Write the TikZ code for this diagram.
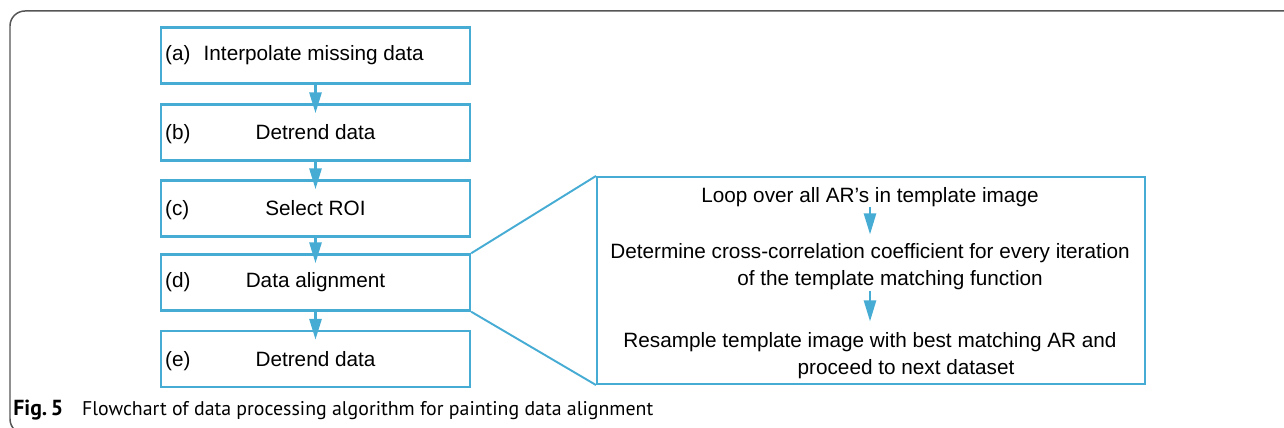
\documentclass[tikz,border=0pt]{standalone}
\usepackage{fontspec}
\setmainfont{Liberation Sans}
\newfontfamily\capfont{PT Sans}
\usetikzlibrary{arrows.meta}
\definecolor{flowblue}{RGB}{70,172,212}
\definecolor{framegray}{RGB}{85,85,85}

\begin{document}
\begin{tikzpicture}[x=0.02cm,y=-0.02cm,
        stepbox/.style={draw=flowblue,line width=1.4pt,minimum width=6.18cm,minimum height=1.12cm,inner sep=0pt,font=\fontsize{11.8}{14}\selectfont},
        tag/.style={anchor=base west,inner sep=0pt,font=\fontsize{11.8}{14}\selectfont},
        txt/.style={inner sep=0pt,align=center,font=\fontsize{11.8}{15.4}\selectfont},
        flow/.style={draw=flowblue,line width=1.7pt,-{Triangle[width=0.24cm,length=0.42cm,fill=flowblue]}}]
    \useasboundingbox (0,0) rectangle (1284,428);

    % outer frame
    \draw[framegray,line width=0.85pt,rounded corners=0.3cm] (10,11) rectangle (1320,434);

    % left column
    \node[stepbox] (a) at (315.5,55.5) {\hspace*{-0.07cm}Interpolate missing data};
    \node[stepbox] (b) at (315.5,132.5) {Detrend data};
    \node[stepbox] (c) at (315.5,208.5) {Select ROI};
    \node[stepbox] (d) at (315.5,282.5) {Data alignment};
    \node[stepbox] (e) at (315.5,359) {Detrend data};

    \node[tag] (ta) at ([xshift=0.1cm]a.base west) {(a)};
    \node[tag] (tb) at ([xshift=0.1cm]b.base west) {(b)};
    \node[tag] (tc) at ([xshift=0.1cm]c.base west) {(c)};
    \node[tag] (td) at ([xshift=0.1cm]d.base west) {(d)};
    \node[tag] (te) at ([xshift=0.1cm]e.base west) {(e)};

    \draw[flow,shorten >=-0.2cm] (a) -- (b);
    \draw[flow,shorten >=-0.2cm] (b) -- (c);
    \draw[flow,shorten >=-0.2cm] (c) -- (d);
    \draw[flow,shorten >=-0.2cm] (d) -- (e);

    % zoomed step (d)
    \node[stepbox,line width=1.2pt,minimum width=10.96cm,minimum height=4.14cm] (zoom) at (871,280.5) {};
    \draw[flowblue,line width=1.1pt] (d.north east) -- (zoom.north west);
    \draw[flowblue,line width=1.1pt] (d.south east) -- (zoom.south west);

    \node[txt] (loop) at (870,197) {Loop over all AR’s in template image};
    \node[txt] (corr) at (870,267) {Determine cross-correlation coefficient for every iteration\\\hspace*{0.8cm}of the template matching function};
    \node[txt] (resamp) at (870,356) {Resample template image with best matching AR and\\\hspace*{1.44cm}proceed to next dataset};
    \draw[flow,line width=1.4pt,shorten >=0.18cm] (loop) -- (corr);
    \draw[flow,line width=1.4pt,shorten >=0.22cm] (corr) -- (resamp);

    % caption
    \node[anchor=base west,inner sep=0pt,font=\capfont\fontsize{11.3}{13}\selectfont] (cap) at (13,416)
        {{\fontsize{12.4}{13}\selectfont\bfseries Fig.\,5}\hspace{0.95em}Flowchart of data processing algorithm for painting data alignment};
\end{tikzpicture}
\end{document}
